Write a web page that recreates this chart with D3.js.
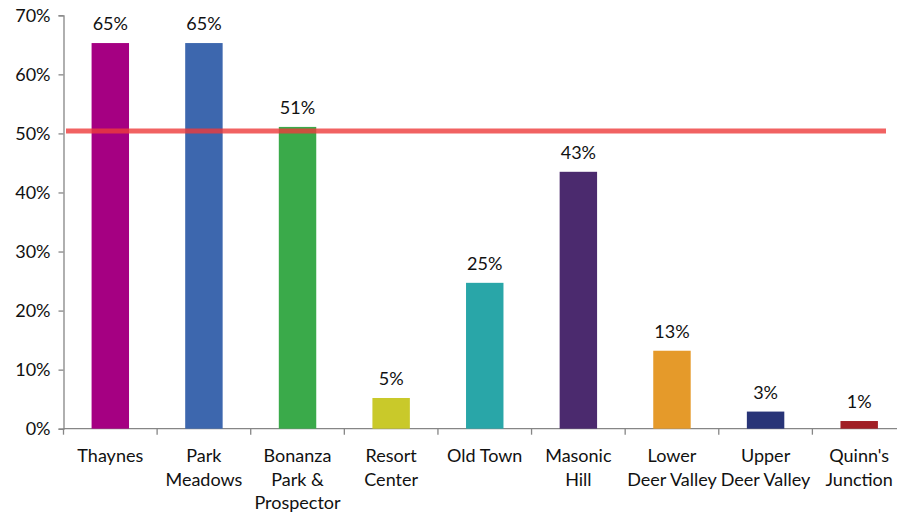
<!DOCTYPE html>
<html>
<head>
<meta charset="utf-8">
<script src="https://cdn.jsdelivr.net/npm/d3@7"></script>
<style>
  body { margin: 0; background: #fff; }
  svg text { font-family: Lato, "Open Sans", sans-serif; fill: #111; }
</style>
</head>
<body>
<div id="chart"></div>
<script>
// data
var areas = ["Thaynes", "Park Meadows", "Bonanza Park & Prospector", "Resort Center",
             "Old Town", "Masonic Hill", "Lower Deer Valley", "Upper Deer Valley", "Quinn's Junction"];
var labelLines = [["Thaynes"], ["Park", "Meadows"], ["Bonanza", "Park &", "Prospector"],
                  ["Resort", "Center"], ["Old Town"], ["Masonic", "Hill"],
                  ["Lower", "Deer Valley"], ["Upper", "Deer Valley"], ["Quinn's", "Junction"]];
var shares = [0.653, 0.653, 0.511, 0.052, 0.247, 0.435, 0.132, 0.029, 0.013];
var valueLabels = ["65%", "65%", "51%", "5%", "25%", "43%", "13%", "3%", "1%"];
var barColors = ["#a50082", "#3d67ae", "#3aaa4a", "#c9c92a", "#29a6a8", "#4b2a6e", "#e59a2a", "#283477", "#a11f25"];
var yTicks = [0, 0.1, 0.2, 0.3, 0.4, 0.5, 0.6, 0.7];
var threshold = 0.504;

var width = 897, height = 514;

var svg = d3.select("#chart").append("svg")
    .attr("width", width)
    .attr("height", height);

var x = d3.scaleBand().domain(areas).range([63.5, 906]).paddingInner(0.6).paddingOuter(0.3);
var y = d3.scaleLinear().domain([0, 0.7]).range([428.7, 15.3]);

// y axis
var yAxis = d3.axisLeft(y).tickValues(yTicks).tickFormat(d3.format(".0%")).tickSize(5).tickPadding(8);
var gy = svg.append("g").attr("transform", "translate(63.5,0)").call(yAxis);
gy.select(".domain").attr("stroke", "#868686").attr("stroke-width", 1.3);
gy.selectAll(".tick line").attr("stroke", "#868686").attr("stroke-width", 1.3);
gy.selectAll("text").style("font-size", "18px").attr("fill", "#111");

// x axis (category boundaries as ticks)
var step = x.step();
var bounds = d3.range(areas.length + 1).map(function(i) { return 63.5 + i * step; });
var gx = svg.append("g").attr("transform", "translate(0," + y(0) + ")");
gx.append("line").attr("x1", 63.5).attr("x2", 906).attr("stroke", "#868686").attr("stroke-width", 1.3);
gx.selectAll("line.tk").data(bounds).enter().append("line")
    .attr("class", "tk")
    .attr("x1", function(d) { return d; }).attr("x2", function(d) { return d; })
    .attr("y1", 0).attr("y2", 6)
    .attr("stroke", "#868686").attr("stroke-width", 1.3);

// bars
svg.selectAll("rect.bar").data(areas).enter().append("rect")
    .attr("class", "bar")
    .attr("x", function(d) { return x(d); })
    .attr("width", x.bandwidth())
    .attr("y", function(d, i) { return y(shares[i]); })
    .attr("height", function(d, i) { return y(0) - y(shares[i]); })
    .attr("fill", function(d, i) { return barColors[i]; });

// value labels
svg.selectAll("text.val").data(areas).enter().append("text")
    .attr("class", "val")
    .attr("x", function(d) { return x(d) + x.bandwidth() / 2; })
    .attr("y", function(d, i) { return y(shares[i]) - 13; })
    .attr("text-anchor", "middle")
    .style("font-size", "18px")
    .text(function(d, i) { return valueLabels[i]; });

// category labels
var cat = svg.selectAll("text.cat").data(areas).enter().append("text")
    .attr("class", "cat")
    .attr("text-anchor", "middle")
    .style("font-size", "18px")
    .attr("transform", function(d) { return "translate(" + (x(d) + x.bandwidth() / 2) + ",462)"; });
cat.selectAll("tspan").data(function(d, i) { return labelLines[i]; }).enter().append("tspan")
    .attr("x", 0)
    .attr("dy", function(d, j) { return j === 0 ? 0 : 23.5; })
    .text(function(d) { return d; });

// 50% reference line
svg.append("line")
    .attr("x1", 66).attr("x2", 886)
    .attr("y1", y(threshold)).attr("y2", y(threshold))
    .attr("stroke", "#ee3b3b")
    .attr("stroke-opacity", 0.8)
    .attr("stroke-width", 5);
</script>
</body>
</html>
